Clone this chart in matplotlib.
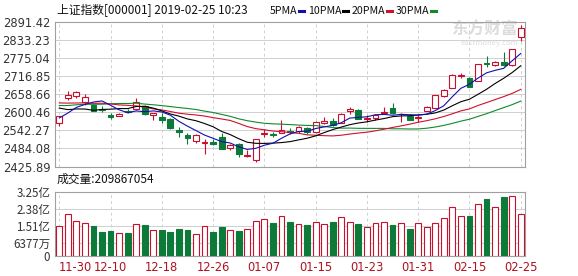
"""
上证指数 日K线 + 成交量
"""
import matplotlib
matplotlib.use("Agg")
import matplotlib.pyplot as plt
from matplotlib.lines import Line2D

plt.rcParams['font.family'] = ['Noto Sans CJK SC', 'DejaVu Sans']

# ---- данные ----
dates = ['11-30', '12-03', '12-04', '12-05', '12-06', '12-07', '12-10', '12-11', '12-12', '12-13',
         '12-14', '12-17', '12-18', '12-19', '12-20', '12-21', '12-24', '12-25', '12-26', '12-27',
         '12-28', '01-02', '01-03', '01-04', '01-07', '01-08', '01-09', '01-10', '01-11', '01-14',
         '01-15', '01-16', '01-17', '01-18', '01-21', '01-22', '01-23', '01-24', '01-25', '01-28',
         '01-29', '01-30', '01-31', '02-01', '02-11', '02-12', '02-13', '02-14', '02-15', '02-18',
         '02-19', '02-20', '02-21', '02-22', '02-25']

opens = [2567, 2647, 2652, 2632, 2622, 2610, 2591, 2589, 2603, 2610,
         2621, 2590, 2585, 2578, 2542, 2527, 2507, 2500, 2505, 2520,
         2486, 2497, 2461, 2446, 2529, 2531, 2534, 2541, 2539, 2551,
         2536, 2567, 2573, 2566, 2603, 2607, 2577, 2580, 2598, 2613,
         2593, 2589, 2580, 2604, 2614, 2652, 2677, 2715, 2711, 2701,
         2759, 2752, 2761, 2753, 2842]
highs = [2589, 2667, 2667, 2659, 2626, 2621, 2597, 2598, 2611, 2645,
         2623, 2599, 2597, 2581, 2554, 2532, 2529, 2515, 2513, 2533,
         2499, 2500, 2478, 2515, 2546, 2537, 2574, 2551, 2555, 2553,
         2571, 2584, 2582, 2598, 2618, 2610, 2590, 2596, 2617, 2630,
         2597, 2596, 2591, 2619, 2654, 2674, 2723, 2727, 2713, 2754,
         2781, 2766, 2792, 2804, 2880]
lows = [2555, 2640, 2646, 2623, 2604, 2600, 2577, 2587, 2597, 2608,
        2591, 2575, 2566, 2547, 2522, 2498, 2501, 2466, 2495, 2482,
        2480, 2456, 2455, 2440, 2522, 2521, 2533, 2530, 2533, 2531,
        2533, 2563, 2556, 2565, 2593, 2578, 2569, 2575, 2597, 2593,
        2569, 2575, 2570, 2603, 2613, 2648, 2677, 2709, 2680, 2700,
        2746, 2747, 2747, 2747, 2830]
closes = [2588.19, 2654.80, 2665.96, 2649.81, 2605.18, 2605.89, 2584.58, 2594.09, 2602.15, 2634.05,
          2593.74, 2597.97, 2576.65, 2549.56, 2536.27, 2516.25, 2527.01, 2504.82, 2498.29, 2483.09,
          2493.90, 2465.29, 2464.36, 2514.87, 2533.09, 2526.46, 2544.34, 2535.10, 2553.83, 2535.77,
          2570.34, 2570.42, 2559.64, 2596.01, 2610.51, 2579.70, 2581.00, 2591.69, 2601.72, 2596.98,
          2594.25, 2575.58, 2584.57, 2618.23, 2653.90, 2671.89, 2721.07, 2719.70, 2682.39, 2754.36,
          2755.65, 2761.22, 2751.80, 2804.23, 2872.00]

# 成交量, 亿
volumes = [1.49, 2.10, 1.76, 1.64, 1.51, 1.20, 1.27, 1.14, 1.14, 1.59,
           1.56, 1.31, 1.31, 1.20, 1.37, 1.31, 1.09, 1.49, 1.20, 1.46,
           1.31, 1.25, 1.36, 1.76, 1.86, 1.66, 2.00, 1.71, 1.59, 1.56,
           1.70, 1.59, 1.71, 1.95, 1.70, 1.61, 1.44, 1.64, 1.70, 1.56,
           1.64, 1.36, 1.64, 1.44, 1.64, 1.90, 2.46, 2.00, 2.02, 2.61,
           2.88, 2.46, 2.98, 3.02, 2.09867054]

ma5 = [2581.6, 2597.4, 2615.6, 2625.2, 2632.8, 2636.4, 2622.4, 2608.0, 2598.4, 2604.2,
       2601.8, 2604.4, 2601.0, 2590.6, 2571.0, 2555.4, 2541.2, 2526.8, 2516.4, 2505.8,
       2501.4, 2489.0, 2480.8, 2484.2, 2494.2, 2500.6, 2516.4, 2530.6, 2538.4, 2539.0,
       2547.8, 2553.0, 2558.0, 2566.4, 2581.4, 2583.4, 2585.6, 2592.0, 2593.2, 2590.4,
       2593.2, 2592.2, 2590.8, 2594.0, 2605.4, 2621.0, 2650.0, 2677.0, 2689.8, 2709.8,
       2726.6, 2734.6, 2741.0, 2765.4, 2788.6]
ma10 = [2613.4, 2608.5, 2610.6, 2610.4, 2606.3, 2609.0, 2609.9, 2611.8, 2611.8, 2618.5,
        2619.1, 2613.4, 2604.5, 2594.5, 2587.6, 2578.6, 2572.8, 2563.9, 2553.5, 2538.4,
        2528.4, 2515.1, 2503.8, 2500.3, 2500.0, 2501.0, 2502.7, 2505.7, 2511.3, 2516.6,
        2524.2, 2534.7, 2544.3, 2552.4, 2560.2, 2565.6, 2569.3, 2575.0, 2579.8, 2585.9,
        2588.3, 2588.9, 2591.4, 2593.6, 2597.9, 2607.1, 2621.1, 2633.9, 2641.9, 2657.6,
        2673.8, 2692.3, 2709.0, 2727.6, 2749.2]
ma20 = [2629.95, 2629.45, 2629.8, 2630.25, 2628.7, 2629.05, 2626.75, 2623.7, 2622.2, 2620.5,
        2616.25, 2610.95, 2607.55, 2602.45, 2596.95, 2593.8, 2591.35, 2587.85, 2582.65, 2578.45,
        2573.75, 2564.25, 2554.15, 2547.4, 2543.8, 2539.8, 2537.75, 2534.8, 2532.4, 2527.5,
        2526.3, 2524.9, 2524.05, 2526.35, 2530.1, 2533.3, 2536.0, 2540.35, 2545.55, 2551.25,
        2556.25, 2561.8, 2567.85, 2573.0, 2579.05, 2586.35, 2595.2, 2604.45, 2610.85, 2621.75,
        2631.05, 2640.6, 2650.2, 2660.6, 2673.55]
ma30 = [2621.67, 2621.67, 2624.03, 2625.6, 2625.63, 2625.87, 2627.3, 2628.17, 2628.13, 2629.07,
        2626.33, 2624.1, 2621.37, 2618.33, 2615.0, 2612.23, 2608.77, 2603.77, 2599.3, 2593.13,
        2586.97, 2579.0, 2572.97, 2568.4, 2564.63, 2562.87, 2561.8, 2560.47, 2558.87, 2557.83,
        2557.23, 2554.4, 2550.87, 2549.07, 2549.27, 2548.4, 2548.27, 2548.2, 2548.2, 2546.97,
        2546.97, 2546.23, 2546.5, 2548.77, 2552.7, 2557.9, 2564.37, 2571.53, 2577.67, 2586.7,
        2595.43, 2605.3, 2614.9, 2624.53, 2635.77]

price_ticks = [2425.89, 2484.08, 2542.27, 2600.46, 2658.66, 2716.85, 2775.04, 2833.23, 2891.42]
vol_ticks = [0, 0.6377, 1.51, 2.38, 3.25]
vol_tick_labels = ['0', '6377万', '1.51亿', '2.38亿', '3.25亿']
date_ticks = [0, 6, 12, 18, 24, 30, 36, 42, 48, 54]

title_text = '上证指数[000001] 2019-02-25 10:23'
volume_text = '成交量:209867054'
ma_names = ['5PMA', '10PMA', '20PMA', '30PMA']

# ---- стиль ----
UP = '#c8102e'
DOWN = '#0e7a3a'
FRAME = '#a0a0a0'
GRID = '#d0d0d0'
MA_COLORS = ['#1010b0', '#000000', '#d0102c', '#108a2c']

W, H = 578, 276
fig = plt.figure(figsize=(W / 100, H / 100), dpi=100)


def box(x0, y0, x1, y1):
    """пиксели -> доли фигуры"""
    return [x0 / W, 1 - y1 / H, (x1 - x0) / W, (y1 - y0) / H]


ax = fig.add_axes(box(55, 21.5, 525, 166.5))
ax2 = fig.add_axes(box(55, 191.7, 525, 255.7))

n = len(closes)
xs = list(range(n))
ups = [c >= o for o, c in zip(opens, closes)]

for a in (ax, ax2):
    a.set_xlim(-0.5, n - 0.5)
    for s in a.spines.values():
        s.set_color(FRAME)
        s.set_linewidth(0.8)
    a.tick_params(length=0, labelsize=8.3, colors='#333333')
    for t in date_ticks:
        a.axvline(t, color=GRID, lw=0.7, ls=(0, (3, 3)), zorder=0)

# ---- свечи ----
ax.set_ylim(price_ticks[0], price_ticks[-1])
ax.set_yticks(price_ticks)
ax.set_yticklabels(['%.2f' % v for v in price_ticks], family='DejaVu Sans')
ax.set_xticks([])
ax.grid(axis='y', color=GRID, lw=0.7, zorder=0)

for i in xs:
    col = UP if ups[i] else DOWN
    ax.vlines(i, lows[i], highs[i], color=col, lw=0.8, zorder=2)
    bottom = min(opens[i], closes[i])
    height = max(abs(closes[i] - opens[i]), 0.4)
    ax.bar(i, height, bottom=bottom, width=0.68,
           facecolor='white' if ups[i] else DOWN, edgecolor=col, lw=0.8, zorder=3)

for vals, col in zip([ma30, ma20, ma10, ma5], MA_COLORS[::-1]):
    ax.plot(xs, vals, color=col, lw=0.8, zorder=4)

# водяной знак
ax.text(0.985, 0.945, '东方财富', transform=ax.transAxes, ha='right', va='center',
        fontsize=12, color='#dcdcdc', fontweight='bold', zorder=1)
ax.text(0.985, 0.85, 'eastmoney.com', transform=ax.transAxes, ha='right', va='center',
        fontsize=5.5, color='#dcdcdc', zorder=1)

# ---- объём ----
ax2.set_ylim(0, 3.25)
ax2.set_yticks(vol_ticks)
ax2.set_yticklabels(vol_tick_labels)
ax2.grid(axis='y', color=GRID, lw=0.7, zorder=0)
ax2.bar(xs, volumes, width=0.68,
        color=['white' if u else DOWN for u in ups],
        edgecolor=[UP if u else DOWN for u in ups], lw=0.8, zorder=3)
ax2.set_xticks(date_ticks)
ax2.set_xticklabels([dates[i] for i in date_ticks], family='DejaVu Sans')
ax2.tick_params(axis='x', colors='#b01020', pad=4)
ax2.get_xticklabels()[0].set_ha('left')

# ---- заголовок и легенда ----
fig.text(57 / W, 1 - 11 / H, title_text, fontsize=8.5, va='center', ha='left', color='#111111')
fig.text(57 / W, 1 - 179 / H, volume_text, fontsize=8.5, va='center', ha='left', color='#111111')

renderer = fig.canvas.get_renderer()
lx = 270
for name, col in zip(ma_names, MA_COLORS):
    t = fig.text(lx / W, 1 - 11 / H, name, fontsize=7.6, va='center', ha='left', color='#111111')
    x_end = t.get_window_extent(renderer).x1
    dx = x_end + 1.5
    fig.add_artist(Line2D([dx / W, (dx + 5) / W], [1 - 10.5 / H, 1 - 10.5 / H],
                          color=col, lw=2.2, transform=fig.transFigure))
    lx = dx + 9

fig.savefig('out.png', dpi=100)
